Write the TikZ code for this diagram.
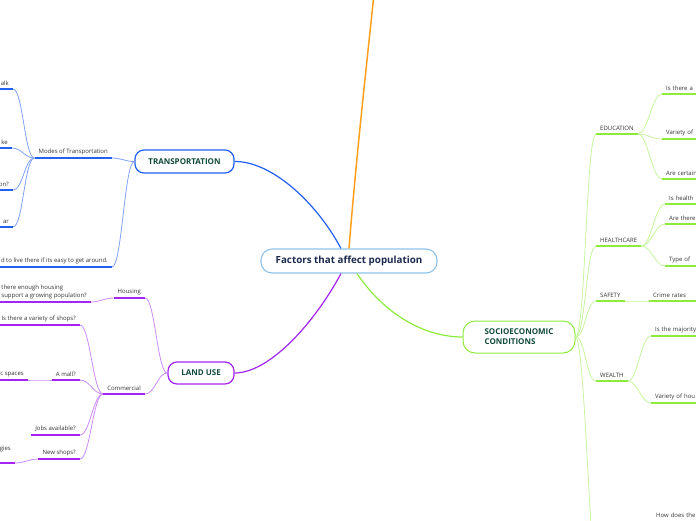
\documentclass[tikz,border=0pt]{standalone}
\usepackage{fontspec}
\setmainfont{Open Sans}
\usetikzlibrary{positioning}
\definecolor{hubline}{HTML}{8DC3EC}
\definecolor{hubink}{HTML}{1B2A4E}
\definecolor{topicink}{HTML}{114A3A}
\definecolor{leafink}{HTML}{333333}
\definecolor{tblue}{HTML}{2260F2}
\definecolor{tbluel}{HTML}{7FA2F7}
\definecolor{lpurple}{HTML}{A424F2}
\definecolor{lpurplel}{HTML}{CC8BF8}
\definecolor{sgreen}{HTML}{8EEB3C}
\definecolor{sgreenl}{HTML}{C6F59E}
\definecolor{morange}{HTML}{FFA01C}
\newcommand{\hubfont}{\fontsize{9.8}{11}\selectfont\bfseries}
\newcommand{\topicfont}{\fontsize{8}{10}\selectfont\bfseries}
\newcommand{\leaffont}{\fontsize{6}{7.6}\selectfont}

\tikzset{
  hub/.style={draw=hubline, line width=1.1pt, rounded corners=11pt, fill=white,
    text=hubink, font=\hubfont, minimum width=176, minimum height=24},
  topic/.style={draw=#1, line width=1.2pt, rounded corners=9pt, fill=white,
    text=topicink, font=\topicfont, inner sep=0pt},
  leaf/.style={font=\leaffont, text=leafink, inner xsep=4pt, inner ysep=3pt},
  lleaf/.style={leaf, anchor=south east},
  rleaf/.style={leaf, anchor=south west},
  rcut/.style={rleaf, text width=52pt, align=left},
  uline/.style={line width=1.5pt, draw=#1},
  link/.style={line width=0.8pt, draw=#1, max distance=10pt},
  tolft/.style={out=180, in=0},
  torgt/.style={out=0, in=180},
}

\begin{document}
\begin{tikzpicture}[x=1pt, y=-1pt]
  \useasboundingbox (0,0) rectangle (696,520);
  \clip (0,0) rectangle (696,520);

  % central topic and main topics
  \node[hub] (hub) at (349,261) {Factors that affect population};
  \node[topic=tblue, minimum width=99, minimum height=23] (transp) at (184.5,161.5) {TRANSPORTATION};
  \node[topic=lpurple, minimum width=66, minimum height=22] (landuse) at (201,373) {LAND USE};
  \node[topic=sgreen, line width=1pt, rounded corners=12pt, minimum width=112, minimum height=32,
    align=left] (socio) at (519,337) {SOCIOECONOMIC\\CONDITIONS};
  \coordinate (up) at (374,-6);
  \coordinate (lower) at (600,600);

  \draw[line width=1.2pt, tblue] ([xshift=-8pt]hub.north) .. controls (315,200) and (270,161) .. (transp.east);
  \draw[line width=1.5pt, morange] (hub.north) .. controls (356,160) and (366,70) .. (up);
  \draw[line width=1.2pt, lpurple] ([xshift=-8pt]hub.south) .. controls (315,322) and (270,373) .. (landuse.east);
  \draw[line width=1.2pt, sgreen] ([xshift=8pt]hub.south) .. controls (385,315) and (425,337) .. (socio.west);

  % transportation
  \node[lleaf] (modes) at (112,158) {Modes of Transportation};
  \node[lleaf] (easy) at (112,267) {d to live there if its easy to get around.};
  \node[lleaf] (walk) at (13,89) {alk};
  \node[lleaf] (bike) at (12,148) {ke};
  \node[lleaf] (onq) at (13,190) {on?};
  \node[lleaf] (car) at (13,227) {ar};

  \draw[link=tbluel] (transp.west) to[tolft] (modes.south east);
  \draw[link=tbluel] (transp.west) to[tolft] (easy.south east);
  \foreach \n in {walk,bike,onq,car}
    \draw[link=tbluel] (modes.south west) to[tolft] (\n.south east);
  \foreach \n in {modes,easy,walk,bike,onq,car}
    \draw[uline=tblue] (\n.south west) -- (\n.south east);

  % land use
  \node[lleaf] (housing) at (145,298) {Housing};
  \node[lleaf] (commercial) at (145,394) {Commercial};
  \node[lleaf, align=left] (enough) at (91,302) {there enough housing\\support a growing population?};
  \node[lleaf] (variety) at (80,325) {Is there a variety of shops?};
  \node[lleaf] (mall) at (80,380) {A mall?};
  \node[lleaf] (spaces) at (28,380) {c spaces};
  \node[lleaf] (jobs) at (80,435) {Jobs available?};
  \node[lleaf] (newshops) at (80,459) {New shops?};
  \node[lleaf, text depth=9pt] (gies) at (15,463) {gies};

  \draw[link=lpurplel] (landuse.west) to[tolft] (housing.south east);
  \draw[link=lpurplel] (landuse.west) to[tolft] (commercial.south east);
  \draw[link=lpurplel] (housing.south west) to[tolft] (enough.south east);
  \foreach \n in {variety,mall,jobs,newshops}
    \draw[link=lpurplel] (commercial.south west) to[tolft] (\n.south east);
  \draw[link=lpurplel] (mall.south west) to[tolft] (spaces.south east);
  \draw[link=lpurplel] (newshops.south west) to[tolft] (gies.south east);
  \foreach \n in {housing,commercial,enough,variety,mall,spaces,jobs,newshops,gies}
    \draw[uline=lpurple] (\n.south west) -- (\n.south east);

  % socioeconomic conditions
  \node[rleaf] (edu) at (596,134) {EDUCATION};
  \node[rleaf] (health) at (596,246) {HEALTHCARE};
  \node[rleaf] (safety) at (596,301) {SAFETY};
  \node[rleaf] (wealth) at (596,381) {WEALTH};
  \node[rcut] (eduone) at (662,94) {Is there a};
  \node[rcut] (edutwo) at (662,139) {Variety of};
  \node[rcut] (eduthree) at (662,179) {Are certain};
  \node[rcut] (healthone) at (665,204) {Is health};
  \node[rcut] (healthtwo) at (665,224) {Are there};
  \node[rcut] (healththree) at (665,266) {Type of};
  \node[rcut] (crime) at (649,301) {Crime rates};
  \node[rcut] (wealthone) at (651,336) {Is the majority};
  \node[rcut] (wealthtwo) at (651,403) {Variety of hou};
  \node[rcut] (how) at (652,521) {How does the};

  \foreach \n in {edu,health,safety,wealth,lower}
    \draw[link=sgreenl] (socio.east) to[torgt] (\n.south west);
  \foreach \n in {eduone,edutwo,eduthree}
    \draw[link=sgreenl] (edu.south east) to[torgt] (\n.south west);
  \foreach \n in {healthone,healthtwo,healththree}
    \draw[link=sgreenl] (health.south east) to[torgt] (\n.south west);
  \draw[link=sgreenl] (safety.south east) to[torgt] (crime.south west);
  \foreach \n in {wealthone,wealthtwo}
    \draw[link=sgreenl] (wealth.south east) to[torgt] (\n.south west);
  \foreach \n in {edu,health,safety,wealth,eduone,edutwo,eduthree,healthone,healthtwo,healththree,crime,wealthone,wealthtwo}
    \draw[uline=sgreen] (\n.south west) -- (\n.south east);
\end{tikzpicture}
\end{document}
